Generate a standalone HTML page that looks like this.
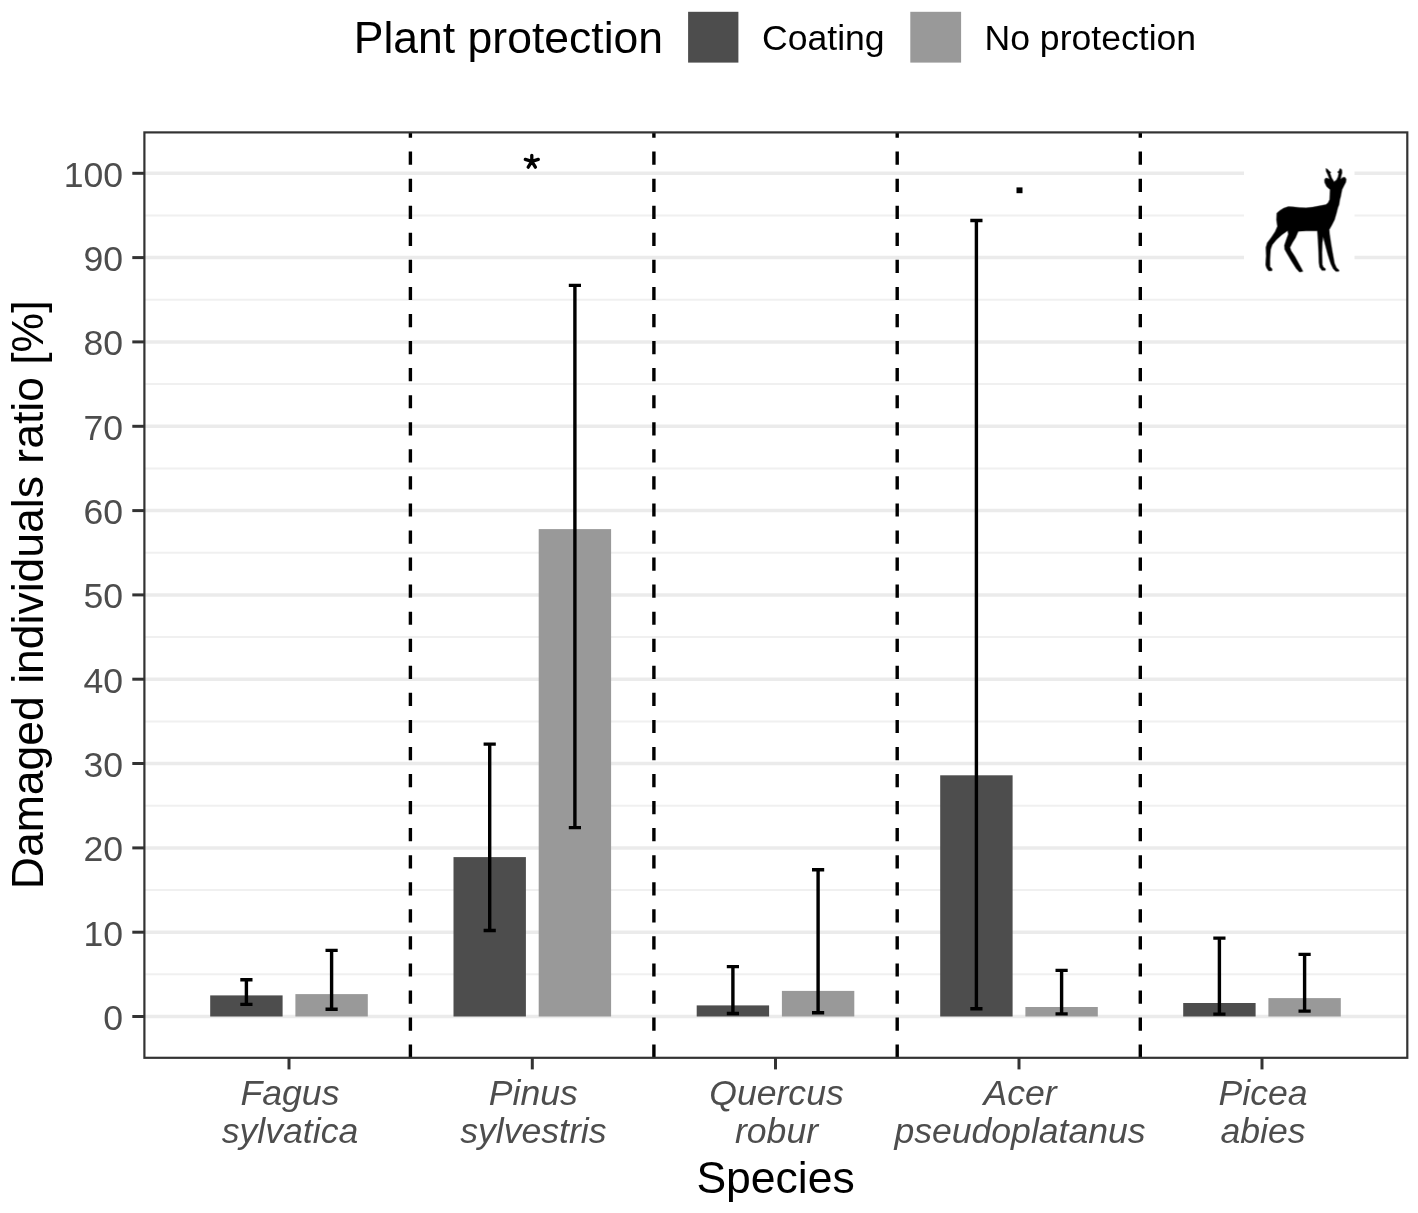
<!DOCTYPE html>
<html><head><meta charset="utf-8"><title>Chart</title><style>html,body{margin:0;padding:0;background:#fff}svg{display:block;will-change:transform}</style></head><body>
<svg width="1418" height="1213" viewBox="0 0 1418 1213" font-family="'Liberation Sans', sans-serif">
<rect width="1418" height="1213" fill="#fff"/>
<g stroke="#f0f0f0" stroke-width="2">
<line x1="144.4" x2="1407.3" y1="974.3" y2="974.3"/>
<line x1="144.4" x2="1407.3" y1="890.0" y2="890.0"/>
<line x1="144.4" x2="1407.3" y1="805.7" y2="805.7"/>
<line x1="144.4" x2="1407.3" y1="721.4" y2="721.4"/>
<line x1="144.4" x2="1407.3" y1="637.1" y2="637.1"/>
<line x1="144.4" x2="1407.3" y1="552.7" y2="552.7"/>
<line x1="144.4" x2="1407.3" y1="468.4" y2="468.4"/>
<line x1="144.4" x2="1407.3" y1="384.1" y2="384.1"/>
<line x1="144.4" x2="1407.3" y1="299.8" y2="299.8"/>
<line x1="144.4" x2="1407.3" y1="215.5" y2="215.5"/>
</g>
<g stroke="#ebebeb" stroke-width="3.5">
<line x1="144.4" x2="1407.3" y1="1016.5" y2="1016.5"/>
<line x1="144.4" x2="1407.3" y1="932.2" y2="932.2"/>
<line x1="144.4" x2="1407.3" y1="847.9" y2="847.9"/>
<line x1="144.4" x2="1407.3" y1="763.5" y2="763.5"/>
<line x1="144.4" x2="1407.3" y1="679.2" y2="679.2"/>
<line x1="144.4" x2="1407.3" y1="594.9" y2="594.9"/>
<line x1="144.4" x2="1407.3" y1="510.6" y2="510.6"/>
<line x1="144.4" x2="1407.3" y1="426.3" y2="426.3"/>
<line x1="144.4" x2="1407.3" y1="341.9" y2="341.9"/>
<line x1="144.4" x2="1407.3" y1="257.6" y2="257.6"/>
<line x1="144.4" x2="1407.3" y1="173.3" y2="173.3"/>
</g>
<rect x="1244" y="158" width="110.5" height="121" fill="#fff"/>
<rect x="210.2" y="995.4" width="72.4" height="21.1" fill="#4d4d4d"/>
<rect x="295.4" y="994.1" width="72.4" height="22.4" fill="#999999"/>
<rect x="453.5" y="857.1" width="72.4" height="159.4" fill="#4d4d4d"/>
<rect x="538.7" y="529.1" width="72.4" height="487.4" fill="#999999"/>
<rect x="696.7" y="1005.4" width="72.4" height="11.1" fill="#4d4d4d"/>
<rect x="781.9" y="990.9" width="72.4" height="25.6" fill="#999999"/>
<rect x="940.2" y="775.3" width="72.4" height="241.2" fill="#4d4d4d"/>
<rect x="1025.4" y="1007.0" width="72.4" height="9.5" fill="#999999"/>
<rect x="1183.2" y="1003.0" width="72.4" height="13.5" fill="#4d4d4d"/>
<rect x="1268.4" y="998.1" width="72.4" height="18.4" fill="#999999"/>
<g stroke="#000" stroke-width="3.4" stroke-dasharray="13.2 13.86">
<line x1="410.4" x2="410.4" y1="1057.8" y2="132.4"/>
<line x1="653.9" x2="653.9" y1="1057.8" y2="132.4"/>
<line x1="897.2" x2="897.2" y1="1057.8" y2="132.4"/>
<line x1="1140.3" x2="1140.3" y1="1057.8" y2="132.4"/>
</g>
<g stroke="#000" stroke-width="3.4" fill="none">
<path d="M240.3 979.7H252.5M246.4 979.7V1004.4M240.3 1004.4H252.5"/>
<path d="M325.5 950.4H337.7M331.6 950.4V1009.2M325.5 1009.2H337.7"/>
<path d="M483.6 744.1H495.8M489.7 744.1V930.5M483.6 930.5H495.8"/>
<path d="M568.8 285.4H581.0M574.9 285.4V827.6M568.8 827.6H581.0"/>
<path d="M726.8 966.6H739.0M732.9 966.6V1013.5M726.8 1013.5H739.0"/>
<path d="M812.0 869.7H824.2M818.1 869.7V1012.7M812.0 1012.7H824.2"/>
<path d="M970.3 220.5H982.5M976.4 220.5V1008.7M970.3 1008.7H982.5"/>
<path d="M1055.5 970.4H1067.7M1061.6 970.4V1013.9M1055.5 1013.9H1067.7"/>
<path d="M1213.3 938.1H1225.5M1219.4 938.1V1014.1M1213.3 1014.1H1225.5"/>
<path d="M1298.5 954.4H1310.7M1304.6 954.4V1011.1M1298.5 1011.1H1310.7"/>
</g>
<rect x="144.4" y="132.4" width="1262.9" height="925.4" fill="none" stroke="#333" stroke-width="2.2"/>
<g stroke="#333" stroke-width="3">
<line x1="132.3" x2="144.4" y1="1016.5" y2="1016.5"/>
<line x1="132.3" x2="144.4" y1="932.2" y2="932.2"/>
<line x1="132.3" x2="144.4" y1="847.9" y2="847.9"/>
<line x1="132.3" x2="144.4" y1="763.5" y2="763.5"/>
<line x1="132.3" x2="144.4" y1="679.2" y2="679.2"/>
<line x1="132.3" x2="144.4" y1="594.9" y2="594.9"/>
<line x1="132.3" x2="144.4" y1="510.6" y2="510.6"/>
<line x1="132.3" x2="144.4" y1="426.3" y2="426.3"/>
<line x1="132.3" x2="144.4" y1="341.9" y2="341.9"/>
<line x1="132.3" x2="144.4" y1="257.6" y2="257.6"/>
<line x1="132.3" x2="144.4" y1="173.3" y2="173.3"/>
<line x1="289.0" x2="289.0" y1="1057.8" y2="1069.4"/>
<line x1="532.3" x2="532.3" y1="1057.8" y2="1069.4"/>
<line x1="775.5" x2="775.5" y1="1057.8" y2="1069.4"/>
<line x1="1019.0" x2="1019.0" y1="1057.8" y2="1069.4"/>
<line x1="1262.0" x2="1262.0" y1="1057.8" y2="1069.4"/>
</g>
<g fill="#4d4d4d" font-size="35.6" text-anchor="end">
<text x="123" y="1030.0">0</text>
<text x="123" y="945.7">10</text>
<text x="123" y="861.4">20</text>
<text x="123" y="777.0">30</text>
<text x="123" y="692.7">40</text>
<text x="123" y="608.4">50</text>
<text x="123" y="524.1">60</text>
<text x="123" y="439.8">70</text>
<text x="123" y="355.4">80</text>
<text x="123" y="271.1">90</text>
<text x="123" y="186.8">100</text>
</g>
<g fill="#4d4d4d" font-size="35.6" text-anchor="middle" font-style="italic">
<text x="290.0" y="1104.7">Fagus</text><text x="290.0" y="1143.2">sylvatica</text>
<text x="533.3" y="1104.7">Pinus</text><text x="533.3" y="1143.2">sylvestris</text>
<text x="776.5" y="1104.7">Quercus</text><text x="776.5" y="1143.2">robur</text>
<text x="1020.0" y="1104.7">Acer</text><text x="1020.0" y="1143.2">pseudoplatanus</text>
<text x="1263.0" y="1104.7">Picea</text><text x="1263.0" y="1143.2">abies</text>
</g>
<text x="775.6" y="1193" font-size="44.5" text-anchor="middle" fill="#000">Species</text>
<text transform="translate(43.2 594.8) rotate(-90)" font-size="44.5" text-anchor="middle" fill="#000">Damaged individuals ratio [%]</text>
<text x="353.8" y="52.7" font-size="44.5" fill="#000">Plant protection</text>
<rect x="688.1" y="11.8" width="50.3" height="50.8" fill="#4d4d4d"/>
<text x="762" y="50.3" font-size="35.6" fill="#000">Coating</text>
<rect x="910.3" y="11.8" width="50.8" height="50.8" fill="#999999"/>
<text x="984.5" y="50.3" font-size="35.6" fill="#000">No protection</text>
<g stroke="#000" stroke-width="3.3" stroke-linecap="round"><path d="M531.8 161.4V155.3M531.8 161.4L525.3 159.4M531.8 161.4L538.3 159.4M531.8 161.4L528.2 167.2M531.8 161.4L535.4 167.2"/></g>
<rect x="1016.5" y="187.4" width="6" height="5.8" fill="#000"/>
<svg x="1240" y="150" width="130" height="140" viewBox="0 0 1126 1213"><path d="M744.5 159.4 L759.5 168 L776.6 187.3 L787.4 191.6 L780 203 L793.8 240.8 L815.2 275.1 L836.6 258 L849.5 232.3 L855.9 200.1 L843 191.6 L858 183 L862.3 168 L868.7 159.4 L881.6 172.3 L883.7 198 L875.2 228 L870.9 253.7 L892.3 236.5 L909.4 236.5 L920.1 253.7 L915.9 279.4 L896.6 317.9 L883.7 343.6 L870.9 407.9 L864.1 433 L858 472.2 L847 501.5 L835.6 547.2 L818.4 604.3 L795.6 650 L772.8 690 L775.6 729.9 L787 804.2 L801.3 889.8 L818.4 981.2 L835.6 1021.1 L858.4 1041.1 L855.5 1052.5 L829.9 1052.5 L807 1026.8 L787 986.9 L761.3 906.9 L738.5 821.3 L720 750 L712.8 804.2 L709.9 889.8 L712.8 992.6 L721.4 1015.4 L741.3 1029.7 L738.5 1044 L709.9 1044 L690 1015.4 L684.2 975.5 L681.4 889.8 L675.7 775.6 L670 701.4 L572.9 701.4 L504.4 704.2 L481.5 758.5 L453 804.2 L433 844.1 L441.6 872.7 L475.8 924.1 L510.1 986.9 L538.6 1038.3 L544.4 1052.5 L515.8 1058.2 L487.3 1026.8 L447.3 964 L413 906.9 L387.3 861.3 L384.5 827 L401.6 775.6 L418.7 729.9 L413 698.5 L361.6 735.6 L316 775.6 L278.8 821.3 L264.6 861.3 L258.9 946.9 L258.9 1009.7 L278.8 1032.6 L276 1046.8 L247.4 1046.8 L230.3 1021.1 L221.7 992.6 L227.4 918.4 L224.6 844.1 L236 804.2 L270.3 758.5 L304.5 707.1 L324.5 661.4 L316 604.3 L318.8 547.2 L344.5 524.4 L378.8 504.4 L418.7 490.1 L458.7 493 L515.8 498.7 L572.9 501.5 L630 495.8 L687.1 484.4 L744.2 473 L763 458 L776.6 429.3 L778.8 386.5 L780.9 343.6 L750.9 317.9 L733.8 283.7 L731.7 258 L742.4 243 L759.5 245.1 L776.6 255 L759.5 210.8 L746.7 185.1 Z" fill="#000" stroke="#000" stroke-width="3" stroke-linejoin="round"/></svg>
</svg>
</body></html>
